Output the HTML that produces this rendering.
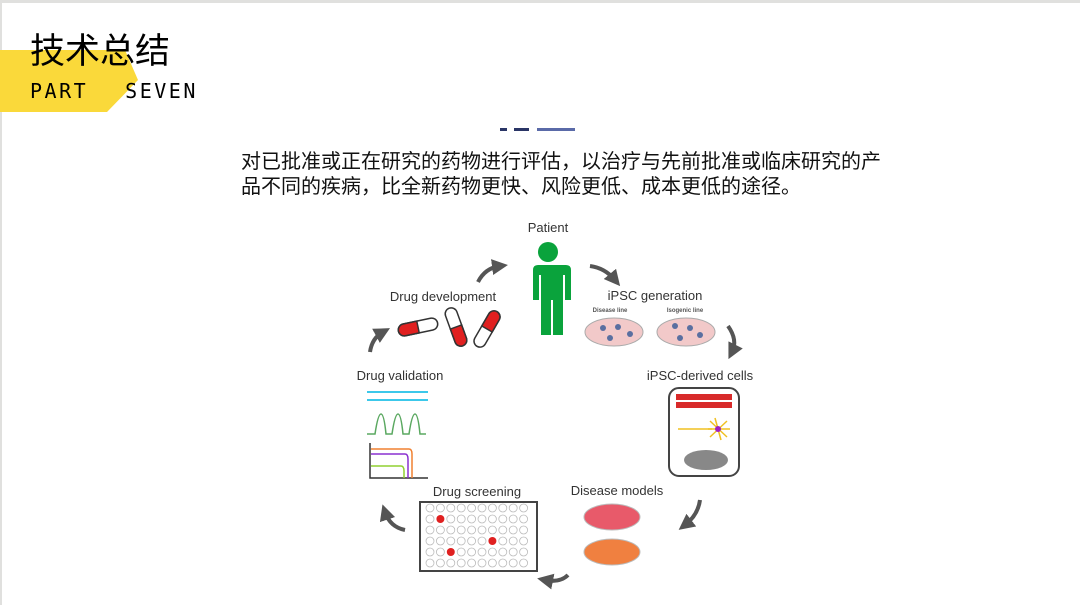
<!DOCTYPE html>
<html><head><meta charset="utf-8"><style>
body{margin:0;width:1080px;height:605px;overflow:hidden;background:#fff;font-family:"Liberation Sans","Noto Sans CJK SC",sans-serif;position:relative}
.t{position:absolute;white-space:nowrap}
</style></head><body>
<div style="position:absolute;left:0;top:0;width:1080px;height:3px;background:#e0e0de"></div>
<div style="position:absolute;left:0;top:0;width:2px;height:605px;background:#e0e0de"></div>
<svg style="position:absolute;left:0;top:0" width="1080" height="605">
<polygon points="0,50 125,50 138,80 107,112 0,112" fill="#fad93a"/>
<rect x="500" y="128" width="7" height="3" fill="#2a3566"/>
<rect x="514" y="128" width="15" height="3" fill="#2a3566"/>
<rect x="537" y="128" width="38" height="3" fill="#5a6aa8"/>
</svg>
<div class="t" style="left:30px;top:27px;font-size:35px;font-family:'Noto Sans CJK SC',sans-serif;line-height:44px">技术总结</div>
<div class="t" style="left:30px;top:77px;font-size:20px;letter-spacing:2.5px;font-family:'DejaVu Sans Mono',monospace;line-height:28px">PART<span style="margin-left:37px">SEVEN</span></div>
<div class="t" style="left:241px;top:150px;font-size:20px;line-height:25px;color:#111">对已批准或正在研究的药物进行评估，以治疗与先前批准或临床研究的产<br>品不同的疾病，比全新药物更快、风险更低、成本更低的途径。</div>
<svg style="position:absolute;left:0;top:0" width="1080" height="605" font-family="Liberation Sans, sans-serif" fill="#333">
<defs><marker id="a" markerWidth="4" markerHeight="4" refX="2" refY="2" orient="auto"><path d="M0,0 L4,2 L0,4z" fill="#555"/></marker></defs>
<g font-size="13" fill="#333">
<text x="548" y="232" text-anchor="middle">Patient</text>
<text x="443" y="301" text-anchor="middle">Drug development</text>
<text x="655" y="300" text-anchor="middle">iPSC generation</text>
<text x="400" y="380" text-anchor="middle">Drug validation</text>
<text x="700" y="380" text-anchor="middle">iPSC-derived cells</text>
<text x="477" y="496" text-anchor="middle">Drug screening</text>
<text x="617" y="495" text-anchor="middle">Disease models</text>
</g>
<g fill="none" stroke="#555" stroke-width="4" marker-end="url(#a)">
<path d="M478,282 Q485,268 500,266"/>
<path d="M590,266 Q605,268 615,280"/>
<path d="M728,326 Q738,340 732,352"/>
<path d="M370,352 Q372,338 383,332"/>
<path d="M700,500 Q698,515 685,525"/>
<path d="M568,575 Q560,583 545,580"/>
<path d="M405,530 Q390,527 385,512"/>
</g>
<g fill="#0aa33c"><circle cx="548" cy="252" r="10"/>
<path d="M530,265 h36 q5,0 5,5 v30 h-6 v-25 h-2 v60 h-10 v-35 h-2 v35 h-10 v-60 h-2 v25 h-6 v-30 q0,-5 5,-5z"/></g>
<g stroke="#333" stroke-width="1.5">
<g transform="rotate(-12 418 327)"><rect x="398" y="321" width="40" height="12" rx="6" fill="#fff"/><path d="M404,321 h14 v12 h-14 a6,6 0 0 1 0,-12z" fill="#e02020"/></g>
<g transform="rotate(-20 456 327)"><rect x="450" y="307" width="12" height="40" rx="6" fill="#fff"/><path d="M450,327 h12 v14 a6,6 0 0 1 -12,0z" fill="#e02020"/></g>
<g transform="rotate(30 487 329)"><rect x="481" y="309" width="12" height="40" rx="6" fill="#fff"/><path d="M481,315 a6,6 0 0 1 12,0 v14 h-12z" fill="#e02020"/></g>
</g>
<text x="610" y="312" font-size="6" font-weight="bold" fill="#555" text-anchor="middle">Disease line</text>
<text x="685" y="312" font-size="6" font-weight="bold" fill="#555" text-anchor="middle">Isogenic line</text>
<ellipse cx="614" cy="332" rx="29" ry="14" fill="#f2c9c9" stroke="#aaa"/>
<ellipse cx="686" cy="332" rx="29" ry="14" fill="#f2c9c9" stroke="#aaa"/>
<g fill="#5a6fa0"><circle cx="603" cy="328" r="3"/><circle cx="618" cy="327" r="3"/><circle cx="630" cy="334" r="3"/><circle cx="610" cy="338" r="3"/><circle cx="675" cy="326" r="3"/><circle cx="690" cy="328" r="3"/><circle cx="700" cy="335" r="3"/><circle cx="680" cy="338" r="3"/></g>
<rect x="669" y="388" width="70" height="88" rx="10" fill="#fff" stroke="#444" stroke-width="2"/>
<rect x="676" y="394" width="56" height="6" fill="#d82a2a"/><rect x="676" y="402" width="56" height="6" fill="#d82a2a"/>
<line x1="678" y1="429" x2="712" y2="429" stroke="#f0c020" stroke-width="1.5"/>
<g stroke="#f0c020" stroke-width="1.5"><line x1="715" y1="418" x2="721" y2="440"/><line x1="708" y1="429" x2="730" y2="429"/><line x1="710" y1="421" x2="727" y2="437"/><line x1="710" y1="437" x2="727" y2="421"/></g>
<circle cx="718" cy="429" r="3" fill="#a020c0"/>
<ellipse cx="706" cy="460" rx="22" ry="10" fill="#888"/>
<ellipse cx="612" cy="517" rx="28" ry="13" fill="#e85a6a" stroke="#bbb"/>
<ellipse cx="612" cy="552" rx="28" ry="13" fill="#f08040" stroke="#bbb"/>
<rect x="420" y="502" width="117" height="69" fill="#fff" stroke="#444" stroke-width="2"/>
<g fill="#fff" stroke="#bbb" stroke-width="0.8" id="w"></g>
<line x1="367" y1="392" x2="428" y2="392" stroke="#3cc8ea" stroke-width="2"/>
<line x1="367" y1="400" x2="428" y2="400" stroke="#3cc8ea" stroke-width="2"/>
<path d="M367,434 h8 q3,-20 6,-20 q3,0 5,20 h6 q3,-20 6,-20 q3,0 5,20 h6 q3,-20 6,-20 q3,0 5,20 h6" fill="none" stroke="#5aa860" stroke-width="1.5"/>
<path d="M370,443 v35 h58" fill="none" stroke="#333" stroke-width="1.5"/>
<path d="M371,449 h38 q3,0 3,5 v24" fill="none" stroke="#f08030" stroke-width="1.5"/>
<path d="M371,454 h34 q3,0 3,5 v19" fill="none" stroke="#8a30d0" stroke-width="1.5"/>
<path d="M371,466 h30 q3,0 3,5 v7" fill="none" stroke="#90d030" stroke-width="1.5"/>
</svg>
<script>
var g=document.getElementById('w'),s='';
var red={'1,1':1,'6,3':1,'2,4':1};
for(var r=0;r<6;r++)for(var c=0;c<10;c++){var x=430+c*10.4,y=508+r*11;
s+=red[c+','+r]?'<circle cx="'+x+'" cy="'+y+'" r="4" fill="#e02020" stroke="none"/>':'<circle cx="'+x+'" cy="'+y+'" r="4"/>';}
g.innerHTML=s;
</script>
</body></html>
